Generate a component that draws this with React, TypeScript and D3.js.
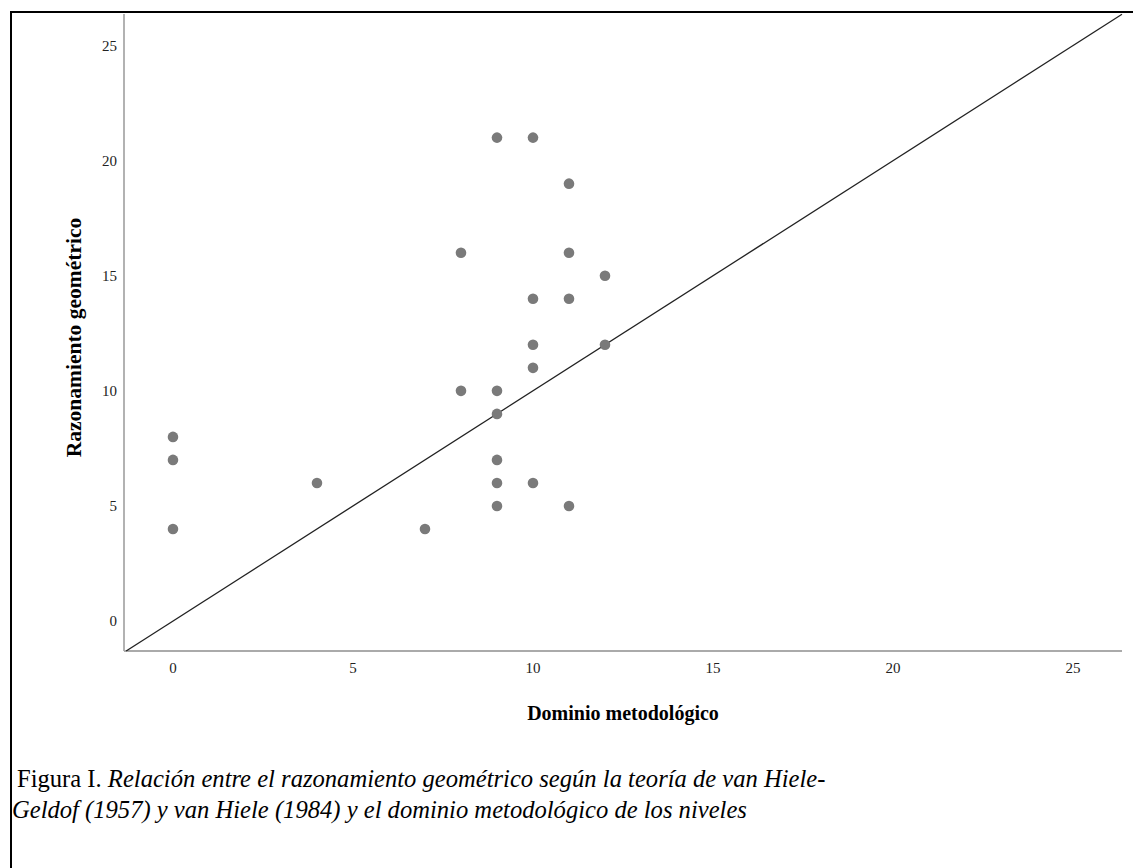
import React from 'react';
import * as d3 from 'd3';

const xValues = [0, 0, 0, 4, 7, 8, 8, 9, 9, 9, 9, 9, 9, 10, 10, 10, 10, 10, 11, 11, 11, 11, 12, 12];
const yValues = [8, 7, 4, 6, 4, 16, 10, 21, 10, 9, 7, 6, 5, 21, 14, 12, 11, 6, 19, 16, 14, 5, 15, 12];
const xTicks = [0, 5, 10, 15, 20, 25];
const yTicks = [0, 5, 10, 15, 20, 25];
const xTitle = 'Dominio metodológico';
const yTitle = 'Razonamiento geométrico';
const captionLabel = 'Figura I.';
const captionLine1 = 'Relación entre el razonamiento geométrico según la teoría de van Hiele-';
const captionLine2 = 'Geldof (1957) y van Hiele (1984) y el dominio metodológico de los niveles';
const xDomain = [-1.36, 26.36];
const yDomain = [-1.3, 26.37];

export default function App() {
  const W = 1133, H = 868;
  const x = d3.scaleLinear().domain(xDomain).range([124, 1122]);
  const y = d3.scaleLinear().domain(yDomain).range([651, 14]);
  const lo = Math.max(xDomain[0], yDomain[0]);
  const hi = Math.min(xDomain[1], yDomain[1]);
  const refPath = d3.line<number>().x(d => x(d)).y(d => y(d))([lo, hi]) || '';
  const serif = '"Liberation Serif", "Times New Roman", serif';
  return (
    <svg width={W} height={H} style={{ position: 'absolute', left: 0, top: 0, background: '#fff' }}>
      <rect x={0} y={0} width={W} height={H} fill="#fff" />
      <line x1={11} y1={12} x2={W} y2={12} stroke="#000" strokeWidth={2} />
      <line x1={11} y1={11} x2={11} y2={H} stroke="#000" strokeWidth={2} />
      <line x1={x(xDomain[0])} y1={y(yDomain[0])} x2={x(xDomain[0])} y2={y(yDomain[1])} stroke="#999" strokeWidth={1.5} />
      <line x1={x(xDomain[0])} y1={y(yDomain[0])} x2={x(xDomain[1])} y2={y(yDomain[0])} stroke="#aaa" strokeWidth={2} />
      {yTicks.map(t => (
        <text key={'y' + t} x={117} y={y(t)} dy="0.35em" textAnchor="end" fontFamily={serif} fontSize={15} fill="#222">{t}</text>
      ))}
      {xTicks.map(t => (
        <text key={'x' + t} x={x(t)} y={668} dy="0.35em" textAnchor="middle" fontFamily={serif} fontSize={15} fill="#222">{t}</text>
      ))}
      <path d={refPath} stroke="#222" strokeWidth={1.3} fill="none" />
      {xValues.map((v, i) => (
        <circle key={'p' + i} cx={x(v)} cy={y(yValues[i])} r={5.3} fill="#7a7a7a" />
      ))}
      <text x={(x(xDomain[0]) + x(xDomain[1])) / 2} y={713} dy="0.35em" textAnchor="middle" fontFamily={serif} fontWeight="bold" fontSize={20}>{xTitle}</text>
      <text transform={`translate(73, ${(y(yDomain[0]) + y(yDomain[1])) / 2 + 5}) rotate(-90)`} dy="0.35em" textAnchor="middle" fontFamily={serif} fontWeight="bold" fontSize={21.5}>{yTitle}</text>
      <text x={17} y={787} fontFamily={serif} fontSize={24.6} fill="#000">
        <tspan>{captionLabel + ' '}</tspan>
        <tspan fontStyle="italic">{captionLine1}</tspan>
      </text>
      <text x={12} y={818} fontFamily={serif} fontSize={24.6} fontStyle="italic" fill="#000">{captionLine2}</text>
    </svg>
  );
}
